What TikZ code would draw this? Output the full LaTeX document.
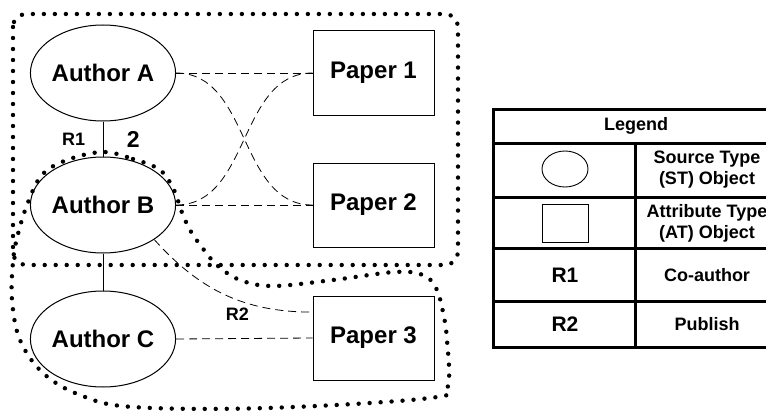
\documentclass[tikz,border=0pt]{standalone}
\usepackage{fontspec}
\setmainfont{Liberation Sans}
\usetikzlibrary{shapes.geometric}

\begin{document}
\begin{tikzpicture}[x=1pt, y=-1pt,
  author/.style={ellipse, draw, line width=1pt, inner sep=0pt, minimum width=132pt, minimum height=96pt, font=\fontsize{24}{28}\selectfont\bfseries},
  paper/.style={rectangle, draw, line width=1pt, inner sep=0pt, minimum width=121pt, minimum height=84pt, font=\fontsize{24}{28}\selectfont\bfseries},
  link/.style={line width=0.8pt, dash pattern=on 8pt off 5pt},
  group/.style={line width=4.4pt, line cap=round, dash pattern=on 0pt off 11pt},
  cell/.style={align=center, font=\fontsize{18}{21}\selectfont\bfseries},
]
  \useasboundingbox (0,0) rectangle (766,412);

  % authors and papers
  \node[author] (A) at (103, 73) {Author A};
  \node[author] (B) at (103,205) {Author B};
  \node[author] (C) at (103,339) {Author C};
  \node[paper] (P1) at (373.5, 73) {Paper 1};
  \node[paper] (P2) at (373.5,205) {Paper 2};
  \node[paper] (P3) at (373.5,338) {Paper 3};

  % co-author links
  \draw[line width=1pt] (A) -- (B) node[midway, left=14pt, font=\fontsize{18}{21}\selectfont\bfseries] {R1}
    node[midway, right=20pt, font=\fontsize{23}{27}\selectfont\bfseries] {2};
  \draw[line width=1pt] (B) -- (C);

  % publish links
  \draw[link] (A.east) -- (P1.west);
  \draw[link] (B.east) -- (P2.west);
  \draw[link] (C.east) -- (P3.west);
  \draw[link] (A.east) to[out=0, in=180] (P2.west);
  \draw[link] (B.east) to[out=0, in=180] (P1.west);
  \draw[link] (B.-34) to[out=-48, in=180] node[pos=0.58, below=4pt, font=\fontsize{18}{21}\selectfont\bfseries] {R2} (P3.157);

  % groups
  \draw[group, rounded corners=13pt] (13,14) rectangle (458,265);
  \draw[group] plot[smooth cycle, tension=0.6] coordinates {
    (103,152) (133,159) (160,170) (174,190) (181,210) (190,230) (204,250)
    (218,266) (240,280) (273,286) (333,280) (395,272) (423,275) (436,288)
    (443,312) (447,340) (448,385) (430,398) (267,408) (133,407) (80,395)
    (43,373) (20,340) (12,300) (13,262) (17,238) (27,205) (42,175) (67,160)};

  % legend
  \draw[line width=3pt] (493,109) rectangle (779,347);
  \draw[line width=3pt] (493,143) -- (779,143);
  \draw[line width=3pt] (493,197) -- (779,197);
  \draw[line width=3pt] (493,248) -- (779,248);
  \draw[line width=3pt] (493,301) -- (779,301);
  \draw[line width=3pt] (635,143) -- (635,347);
  \node[cell] (legend) at (636,126) {Legend};
  \node[ellipse, draw, line width=0.9pt, minimum width=46pt, minimum height=36pt, inner sep=0pt] (st) at (565,169) {};
  \node[rectangle, draw, line width=0.9pt, minimum width=46pt, minimum height=38pt, inner sep=0pt] (at) at (565,223) {};
  \node[cell] (stText) at (707,170) {Source Type\\(ST) Object};
  \node[cell] (atText) at (707,223) {Attribute Type\\(AT) Object};
  \node[cell, font=\fontsize{21}{25}\selectfont\bfseries] (r1) at (565,275) {R1};
  \node[cell] (r1Text) at (707,275) {Co-author};
  \node[cell, font=\fontsize{21}{25}\selectfont\bfseries] (r2) at (565,324) {R2};
  \node[cell] (r2Text) at (707,324) {Publish};
\end{tikzpicture}
\end{document}
